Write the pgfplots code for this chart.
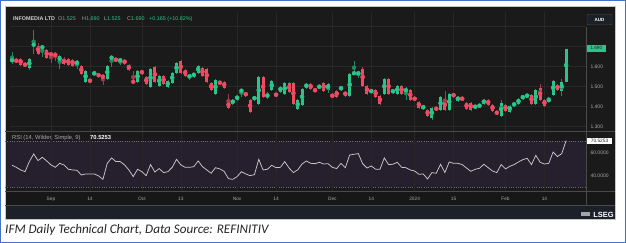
\documentclass[border=0pt]{standalone}
\usepackage{pgfplots}
\pgfplotsset{compat=1.18}
\usepackage{pgfplotstable}
\usepackage{fontspec}
\setmainfont{Liberation Sans}
\newfontfamily\capfont{Carlito}
\definecolor{cgreen}{HTML}{2BC48A}
\definecolor{cred}{HTML}{EF4B63}
\definecolor{gwick}{HTML}{1F8A5E}
\definecolor{rwick}{HTML}{A8384A}
\definecolor{panel}{HTML}{1A1A1A}
\definecolor{rsiband}{HTML}{251F2E}
\definecolor{dateband}{HTML}{171717}
\definecolor{footband}{HTML}{1C2029}
\definecolor{gridc}{HTML}{282828}
\definecolor{sepc}{HTML}{4A4A4A}
\definecolor{txtc}{HTML}{A8A8A8}
\definecolor{titlec}{HTML}{D0D0D0}
\definecolor{dashc}{HTML}{6E6A7A}
\definecolor{rsic}{HTML}{C8C8CC}
\definecolor{frameblue}{HTML}{4472C4}

\pgfplotstableread{
i o h l c
-9 1.630 1.675 1.615 1.635
-5 1.595 1.645 1.585 1.640
-4 1.705 1.785 1.665 1.715
-2 1.690 1.710 1.650 1.705
2 1.625 1.660 1.590 1.655
6 1.615 1.635 1.590 1.625
8 1.525 1.585 1.520 1.580
10 1.565 1.575 1.555 1.570
13 1.540 1.610 1.535 1.605
14 1.635 1.660 1.600 1.655
16 1.630 1.640 1.610 1.635
20 1.525 1.585 1.520 1.580
23 1.500 1.595 1.495 1.590
25 1.505 1.560 1.500 1.555
27 1.500 1.535 1.495 1.530
28 1.520 1.575 1.515 1.570
29 1.570 1.625 1.565 1.620
32 1.550 1.565 1.535 1.555
33 1.555 1.570 1.545 1.565
34 1.570 1.610 1.565 1.605
38 1.465 1.540 1.460 1.535
42 1.415 1.440 1.410 1.435
43 1.435 1.460 1.430 1.455
44 1.475 1.490 1.450 1.485
47 1.435 1.455 1.430 1.450
48 1.415 1.555 1.410 1.550
50 1.450 1.475 1.440 1.460
51 1.485 1.535 1.480 1.530
53 1.475 1.505 1.470 1.500
54 1.465 1.525 1.460 1.520
57 1.390 1.440 1.385 1.435
58 1.410 1.495 1.405 1.490
59 1.495 1.520 1.490 1.515
62 1.495 1.510 1.490 1.505
64 1.485 1.520 1.470 1.515
67 1.485 1.505 1.480 1.500
69 1.455 1.570 1.450 1.565
70 1.565 1.630 1.560 1.570
71 1.565 1.580 1.545 1.570
74 1.475 1.485 1.470 1.480
77 1.465 1.545 1.460 1.540
79 1.470 1.490 1.465 1.485
80 1.465 1.510 1.460 1.505
82 1.480 1.500 1.435 1.485
86 1.390 1.410 1.385 1.405
88 1.345 1.400 1.335 1.395
90 1.385 1.455 1.380 1.450
92 1.385 1.470 1.380 1.465
94 1.430 1.455 1.425 1.450
98 1.395 1.410 1.390 1.405
99 1.400 1.415 1.395 1.410
100 1.415 1.440 1.410 1.435
104 1.355 1.435 1.350 1.420
106 1.375 1.410 1.370 1.405
107 1.410 1.420 1.400 1.415
108 1.415 1.445 1.410 1.440
109 1.440 1.460 1.435 1.455
110 1.450 1.465 1.445 1.460
112 1.415 1.490 1.410 1.485
115 1.430 1.450 1.425 1.435
116 1.460 1.535 1.455 1.530
118 1.480 1.540 1.455 1.525
119 1.525 1.690 1.525 1.690
}\greentab

\pgfplotstableread{
i o h l c
-8 1.635 1.640 1.620 1.625
-7 1.640 1.645 1.605 1.610
-6 1.615 1.620 1.600 1.605
-3 1.705 1.720 1.660 1.665
-1 1.685 1.690 1.640 1.645
0 1.665 1.675 1.620 1.660
1 1.665 1.675 1.630 1.655
3 1.640 1.650 1.610 1.615
4 1.640 1.645 1.605 1.610
5 1.635 1.640 1.600 1.605
7 1.605 1.610 1.560 1.565
9 1.535 1.540 1.520 1.525
11 1.560 1.565 1.550 1.555
12 1.560 1.565 1.510 1.540
15 1.640 1.645 1.625 1.630
17 1.635 1.640 1.610 1.615
18 1.610 1.615 1.580 1.585
19 1.530 1.580 1.515 1.520
21 1.580 1.585 1.560 1.565
22 1.550 1.555 1.510 1.515
24 1.600 1.605 1.520 1.525
26 1.555 1.560 1.510 1.515
30 1.630 1.635 1.565 1.570
31 1.585 1.590 1.550 1.555
35 1.595 1.600 1.550 1.555
36 1.590 1.595 1.520 1.525
37 1.520 1.525 1.480 1.485
39 1.525 1.530 1.510 1.515
40 1.525 1.530 1.490 1.495
41 1.425 1.465 1.390 1.395
45 1.470 1.475 1.450 1.455
46 1.435 1.440 1.370 1.375
49 1.550 1.555 1.445 1.450
52 1.465 1.470 1.450 1.455
55 1.520 1.525 1.470 1.475
56 1.520 1.525 1.410 1.415
60 1.515 1.520 1.485 1.490
61 1.485 1.490 1.475 1.480
63 1.520 1.525 1.475 1.480
65 1.460 1.465 1.445 1.450
66 1.480 1.485 1.445 1.450
68 1.475 1.480 1.450 1.455
72 1.590 1.600 1.500 1.505
73 1.505 1.510 1.460 1.465
75 1.485 1.490 1.445 1.450
76 1.455 1.460 1.410 1.415
78 1.540 1.545 1.460 1.465
81 1.505 1.510 1.460 1.465
83 1.485 1.490 1.430 1.435
84 1.445 1.450 1.430 1.435
85 1.425 1.430 1.390 1.395
87 1.385 1.390 1.350 1.355
89 1.395 1.400 1.380 1.385
91 1.435 1.480 1.380 1.385
93 1.465 1.470 1.445 1.450
95 1.445 1.450 1.430 1.435
96 1.420 1.425 1.385 1.390
97 1.420 1.425 1.380 1.385
101 1.435 1.440 1.405 1.410
102 1.410 1.415 1.375 1.380
103 1.375 1.380 1.360 1.365
105 1.410 1.415 1.375 1.380
111 1.460 1.465 1.410 1.415
113 1.495 1.515 1.430 1.435
114 1.435 1.440 1.400 1.405
117 1.510 1.515 1.480 1.485
}\redtab

\pgfplotstableread{
i r
-9 49.0
-8 47.2
-7 44.9
-6 43.4
-5 52.2
-4 58.9
-3 53.1
-2 56.0
-1 52.8
0 49.3
1 47.2
2 50.7
3 49.3
4 45.5
5 44.9
6 44.6
7 40.5
8 41.4
9 41.4
10 41.4
11 39.7
12 36.7
13 50.7
14 55.4
15 52.2
16 52.2
17 49.3
18 44.9
19 39.1
20 45.5
21 43.4
22 39.9
23 49.6
24 43.1
25 46.1
26 42.6
27 43.4
28 47.2
29 54.2
30 49.3
31 47.2
32 47.2
33 47.8
34 52.8
35 47.8
36 44.9
37 42.0
38 46.9
39 45.8
40 43.7
41 37.3
42 36.7
43 39.1
44 43.4
45 41.4
46 39.9
47 40.8
48 54.2
49 44.9
50 45.5
51 49.0
52 46.9
53 47.2
54 52.2
55 46.6
56 42.6
57 45.0
58 50.1
59 52.8
60 50.7
61 50.4
62 51.6
63 50.1
64 50.4
65 47.2
66 46.1
67 50.7
68 46.9
69 58.0
70 58.6
71 59.2
72 50.4
73 46.6
74 48.4
75 45.5
76 45.5
77 55.4
78 49.6
79 49.9
80 51.6
81 47.2
82 46.9
83 44.9
84 44.0
85 41.1
86 41.4
87 37.0
88 42.6
89 42.0
90 49.9
91 42.6
92 51.9
93 50.7
94 50.7
95 49.6
96 46.6
97 43.7
98 45.5
99 46.4
100 49.9
101 46.9
102 44.0
103 42.6
104 49.6
105 45.8
106 48.1
107 49.6
108 51.9
109 53.9
110 55.1
111 49.6
112 57.7
113 51.6
114 50.1
115 50.7
116 60.6
117 56.6
118 59.2
119 70.53
}\rsitab

\begin{document}
\begin{tikzpicture}[x=1pt,y=1pt]
% frame and panels
\fill[white] (0,0) rectangle (626,243);
\draw[frameblue, line width=1.2pt] (0.6,0.6) rectangle (625.4,242.4);
\fill[panel] (5,24) rectangle (615,237);
\fill[rsiband] (5,56) rectangle (586,101.7);
\fill[dateband] (5,38) rectangle (615,52);
\fill[footband] (5,24) rectangle (615,38);
\draw[gray!45, line width=0.5pt] (5,24) rectangle (615,237);

% price axis
\begin{axis}[
  at={(10pt,112pt)}, anchor=south west, scale only axis,
  width=576pt, height=119pt,
  xmin=-9.47, xmax=123.6, ymin=1.2785, ymax=1.8735,
  axis line style={draw=none}, tick style={draw=none},
  xtick={0,9,21,30,43,52,65,74,84,93,105,114},
  xticklabels={,,,,,,,,,,,},
  ytick={1.3,1.4,1.5,1.6,1.7,1.8}, yticklabels={1.300,1.400,1.500,1.600,,},
  yticklabel pos=right,
  yticklabel style={font=\fontsize{5}{6}\selectfont, text=txtc, xshift=1pt},
  grid=major, major grid style={draw=gridc, line width=0.4pt},
]
\addplot[gwick, only marks, mark=none, forget plot,
  error bars/.cd, y dir=both, y explicit, error mark=none,
  error bar style={draw=gwick, line width=0.6pt}]
  table[x=i, y expr={(\thisrow{h}+\thisrow{l})/2}, y error expr={(\thisrow{h}-\thisrow{l})/2}] {\greentab};
\addplot[rwick, only marks, mark=none, forget plot,
  error bars/.cd, y dir=both, y explicit, error mark=none,
  error bar style={draw=rwick, line width=0.6pt}]
  table[x=i, y expr={(\thisrow{h}+\thisrow{l})/2}, y error expr={(\thisrow{h}-\thisrow{l})/2}] {\redtab};
\addplot[cgreen, only marks, mark=none, forget plot,
  error bars/.cd, y dir=both, y explicit, error mark=none,
  error bar style={draw=cgreen, line width=3pt}]
  table[x=i, y expr={(\thisrow{o}+\thisrow{c})/2}, y error expr={max(abs(\thisrow{c}-\thisrow{o})/2,0.0012)}] {\greentab};
\addplot[cred, only marks, mark=none, forget plot,
  error bars/.cd, y dir=both, y explicit, error mark=none,
  error bar style={draw=cred, line width=3pt}]
  table[x=i, y expr={(\thisrow{o}+\thisrow{c})/2}, y error expr={max(abs(\thisrow{c}-\thisrow{o})/2,0.0012)}] {\redtab};
\end{axis}

% RSI dashed levels
\draw[dashc, line width=0.5pt, dash pattern=on 1pt off 1.3pt] (5,101.7) -- (586,101.7);
\draw[dashc, line width=0.5pt, dash pattern=on 1pt off 1.3pt] (5,56) -- (586,56);

% RSI axis
\begin{axis}[
  at={(10pt,52pt)}, anchor=south west, scale only axis,
  width=576pt, height=59pt,
  xmin=-9.47, xmax=123.6, ymin=26.5, ymax=78.1,
  axis line style={draw=none}, tick style={draw=none},
  xtick={0,9,21,30,43,52,65,74,84,93,105,114},
  xticklabels={Sep,14,Oct,13,Nov,14,Dec,14,2024,15,Feb,14},
  xticklabel style={font=\fontsize{4.8}{5}\selectfont, text=txtc, anchor=center, yshift=-8pt},
  ytick={40,60}, yticklabels={40.0000,60.0000},
  yticklabel pos=right,
  yticklabel style={font=\fontsize{5}{6}\selectfont, text=txtc, xshift=1pt},
  xmajorgrids, major grid style={draw=gridc!80!rsiband, line width=0.4pt},
]
\addplot[rsic, line width=0.75pt, mark=none] table[x=i, y=r] {\rsitab};
\end{axis}

% separators
\draw[sepc, line width=0.8pt] (5,112) -- (615,112);
\draw[sepc, line width=0.6pt] (5,52) -- (615,52);
\draw[sepc, line width=0.6pt] (5,38) -- (615,38);
\draw[sepc, line width=0.6pt] (586,38) -- (586,216);

% title
\begin{scope}[every node/.style={anchor=west, inner sep=0, font=\fontsize{5.4}{6}\selectfont}]
\node at (13,224) {\textcolor{titlec}{\bfseries INFOMEDIA LTD}};
\node at (58,224) {\textcolor{txtc}{O}\textcolor{cgreen}{1.525}};
\node at (82,224) {\textcolor{txtc}{H}\textcolor{cgreen}{1.690}};
\node at (104,224) {\textcolor{txtc}{L}\textcolor{cgreen}{1.525}};
\node at (127,224) {\textcolor{txtc}{C}\textcolor{cgreen}{1.690}};
\node at (149,224) {\textcolor{cgreen}{+0.165 (+10.82\%)}};
% RSI label
\node[font=\fontsize{5.8}{6}\selectfont] at (12,105) {\textcolor{txtc}{RSI (14, Wilder, Simple, 9)}};
\node[font=\fontsize{5.8}{6}\selectfont\bfseries] at (90,105) {\textcolor{white}{70.5253}};
\end{scope}

% boxes on scale
\node[draw=gray!60!black, fill=footband, rounded corners=1pt, minimum width=25pt, minimum height=10.5pt, inner sep=0, text=white, font=\fontsize{4.5}{5}\selectfont\bfseries] at (599.5,223.5) {AUD};
\node[fill=cgreen, minimum width=19pt, minimum height=6.7pt, inner sep=0, text=black!85, font=\fontsize{4.8}{5}\selectfont] at (596.3,194.7) {1.690};
\node[fill=white, minimum width=25pt, minimum height=6.5pt, inner sep=0, text=black!85, font=\fontsize{4.8}{5}\selectfont] at (599.5,102) {70.5253};

% LSEG logo
\fill[gray!70] (581,26.5) rectangle (590,31);
\node[anchor=east, inner sep=0, text=white, font=\fontsize{7.5}{8}\selectfont\bfseries] at (614,28.5) {LSEG};

% caption
\node[anchor=west, inner sep=0, text={black!85}, font=\capfont\itshape\fontsize{13.1}{15}\selectfont] at (5,13) {IFM Daily Technical Chart, Data Source: REFINITIV};
\end{tikzpicture}
\end{document}
